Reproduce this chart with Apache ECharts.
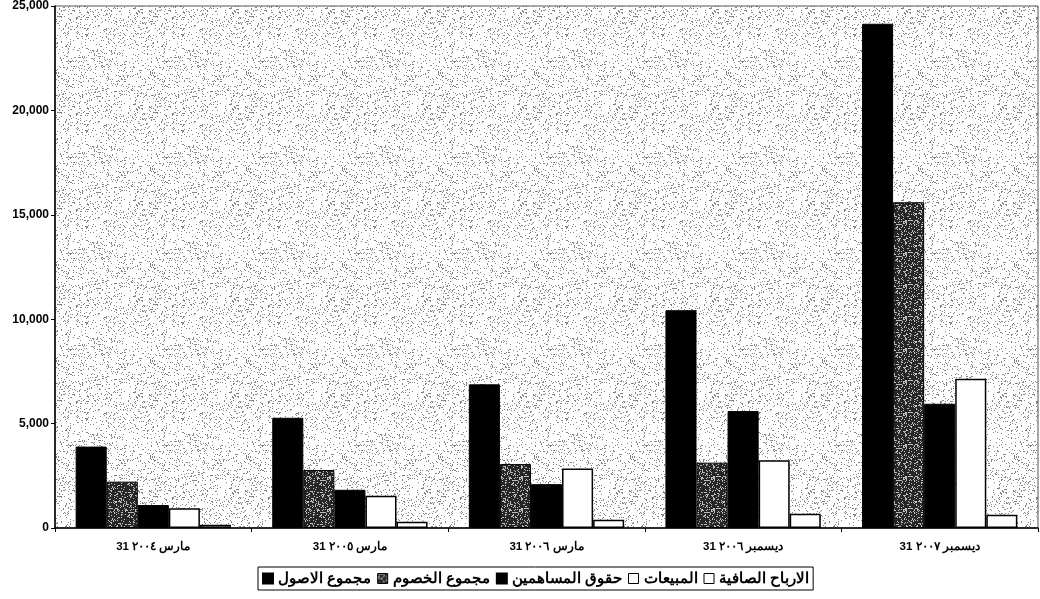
<!DOCTYPE html>
<html>
<head>
<meta charset="utf-8">
<script src="https://cdn.jsdelivr.net/npm/echarts@6/dist/echarts.min.js"></script>
<style>
    html, body { margin: 0; padding: 0; background: #fff; }
    #main { width: 1040px; height: 599px; }
</style>
</head>
<body>
<div id="main"></div>
<script>
    // categories (x axis)
    var categories = ['31 مارس ٢٠٠٤', '31 مارس ٢٠٠٥', '31 مارس ٢٠٠٦', '31 ديسمبر ٢٠٠٦', '31 ديسمبر ٢٠٠٧'];

    // series values
    var totalAssets = [3900, 5280, 6880, 10430, 24150];      // مجموع الاصول
    var totalLiabilities = [2220, 2780, 3060, 3130, 15600];  // مجموع الخصوم
    var equity = [1100, 1830, 2100, 5600, 5950];             // حقوق المساهمين
    var sales = [950, 1540, 2850, 3250, 7150];               // المبيعات
    var netProfit = [150, 300, 390, 680, 640];               // الارباح الصافية

    var yTicks = [0, 5000, 10000, 15000, 20000, 25000];

    // stipple texture for the plot background / hatched bars
    function makeStipple(size, bg, dot, step) {
        var c = document.createElement('canvas');
        c.width = size; c.height = size;
        var ctx = c.getContext('2d');
        ctx.fillStyle = bg;
        ctx.fillRect(0, 0, size, size);
        ctx.fillStyle = dot;
        for (var y = 0; y < size; y++) {
            for (var x = 0; x < size; x++) {
                var h = (x * 374761393 + y * 668265263) >>> 0;
                h = ((h ^ (h >>> 13)) * 1274126177) >>> 0;
                if (h % 100 < step) ctx.fillRect(x, y, 1, 1);
            }
        }
        return c;
    }

    var bgPattern = { image: makeStipple(96, '#ffffff', '#858585', 10), repeat: 'repeat' };
    var hatchPattern = { image: makeStipple(32, '#262626', '#bdbdbd', 22), repeat: 'repeat' };

    var chart = echarts.init(document.getElementById('main'));

    var fontFam = '"Liberation Sans", Arial, sans-serif';

    var option = {
        backgroundColor: '#fff',
        animation: false,
        grid: {
            left: 55,
            right: 2,
            top: 6,
            bottom: 71,
            show: true,
            backgroundColor: bgPattern,
            borderColor: '#555',
            borderWidth: 1
        },
        legend: {
            left: 258,
            top: 567,
            orient: 'horizontal',
            icon: 'rect',
            itemGap: 6,
            itemWidth: 10,
            itemHeight: 10,
            padding: [4, 4, 4, 4],
            borderColor: '#000',
            borderWidth: 1,
            textStyle: { fontFamily: fontFam, fontWeight: 'bold', fontSize: 15, color: '#000' },
            data: [
                { name: 'مجموع الاصول', itemStyle: { color: '#000' } },
                { name: 'مجموع الخصوم', itemStyle: { color: hatchPattern, borderColor: '#000', borderWidth: 1 } },
                { name: 'حقوق المساهمين', itemStyle: { color: '#000' } },
                { name: 'المبيعات', itemStyle: { color: '#fff', borderColor: '#000', borderWidth: 1 } },
                { name: 'الارباح الصافية', itemStyle: { color: '#fff', borderColor: '#000', borderWidth: 1 } }
            ]
        },
        xAxis: {
            type: 'category',
            data: categories,
            axisLine: { lineStyle: { color: '#000', width: 1.5 } },
            axisTick: { show: true, length: 4, lineStyle: { color: '#000' } },
            axisLabel: { fontFamily: fontFam, fontWeight: 'bold', fontSize: 11.5, color: '#000', margin: 13 }
        },
        yAxis: {
            type: 'value',
            min: yTicks[0],
            max: yTicks[yTicks.length - 1],
            interval: 5000,
            splitLine: { show: false },
            axisLine: { show: true, lineStyle: { color: '#000', width: 1.5 } },
            axisTick: { show: true, length: 4, lineStyle: { color: '#000' } },
            axisLabel: {
                fontFamily: fontFam, fontWeight: 'bold', fontSize: 12, color: '#000', margin: 6,
                formatter: function (v) { return v.toLocaleString('en-US'); }
            }
        },
        series: [
            {
                name: 'مجموع الاصول', type: 'bar', data: totalAssets,
                barGap: '0%', barCategoryGap: '21%',
                itemStyle: { color: '#000', borderColor: '#000', borderWidth: 1 }
            },
            {
                name: 'مجموع الخصوم', type: 'bar', data: totalLiabilities,
                itemStyle: { color: hatchPattern, borderColor: '#000', borderWidth: 1 }
            },
            {
                name: 'حقوق المساهمين', type: 'bar', data: equity,
                itemStyle: { color: '#000', borderColor: '#000', borderWidth: 1 }
            },
            {
                name: 'المبيعات', type: 'bar', data: sales,
                itemStyle: { color: '#fff', borderColor: '#000', borderWidth: 1.5 }
            },
            {
                name: 'الارباح الصافية', type: 'bar', data: netProfit,
                itemStyle: { color: '#fff', borderColor: '#000', borderWidth: 1.5 }
            }
        ]
    };

    chart.setOption(option);
</script>
</body>
</html>
